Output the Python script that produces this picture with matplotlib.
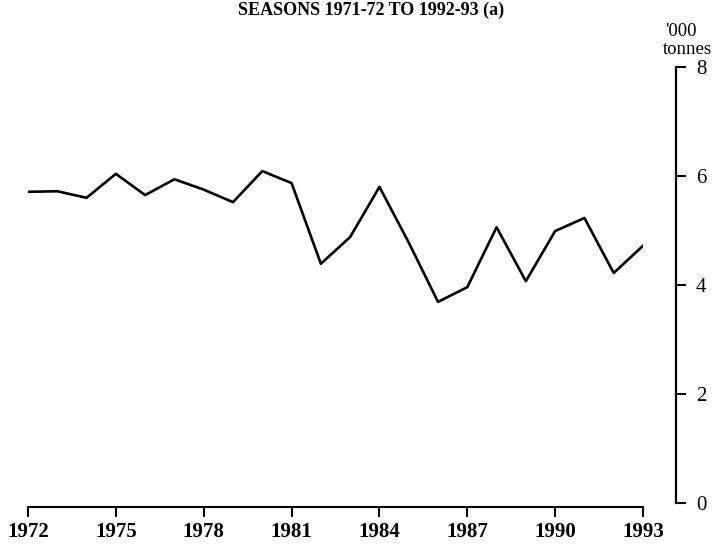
import matplotlib
matplotlib.use("Agg")
from matplotlib import pyplot as plt

# seasons 1971-72 .. 1992-93, plotted at the ending year
years = list(range(1972, 1994))
tonnes = [5.71, 5.72, 5.60, 6.04, 5.65, 5.94, 5.75, 5.52, 6.09, 5.87, 4.39,
          4.88, 5.80, 4.78, 3.69, 3.96, 5.06, 4.07, 4.99, 5.23, 4.22, 4.72]
x_ticks = [1972, 1975, 1978, 1981, 1984, 1987, 1990, 1993]
y_ticks = [0, 2, 4, 6, 8]

plt.rcParams['font.family'] = ['Liberation Serif', 'DejaVu Serif']

fig = plt.figure(figsize=(7.23, 5.44), dpi=100)
ax = fig.add_axes([28 / 723, 1 - 503 / 544, 615 / 723, 436 / 544])

ax.plot(years, tonnes, color='black', linewidth=1.9)

ax.set_xlim(1972, 1993)
ax.set_ylim(0, 8)

for side in ['top', 'left']:
    ax.spines[side].set_visible(False)
ax.spines['bottom'].set_position(('outward', 3))
ax.spines['right'].set_position(('outward', 24))
ax.spines['bottom'].set_linewidth(1.5)
ax.spines['right'].set_linewidth(1.6)

ax.set_xticks(x_ticks)
ax.set_xticklabels([str(y) for y in x_ticks], fontweight='bold')
ax.set_yticks(y_ticks)
ax.yaxis.tick_right()
ax.tick_params(axis='x', direction='out', length=7, width=1.5,
               labelsize=15, pad=4)
ax.tick_params(axis='y', direction='out', length=7, width=1.5,
               labelsize=15, pad=7)

fig.text(371 / 723, 1 - 10 / 544, 'SEASONS 1971-72 TO 1992-93 (a)',
         ha='center', va='center', fontsize=13, fontweight='bold')
fig.text(665 / 723, 1 - 31 / 544, "'000", ha='left', va='center',
         fontsize=13.5)
fig.text(663 / 723, 1 - 49 / 544, 'tonnes', ha='left', va='center',
         fontsize=13.5)

fig.savefig('out.png', dpi=100)
